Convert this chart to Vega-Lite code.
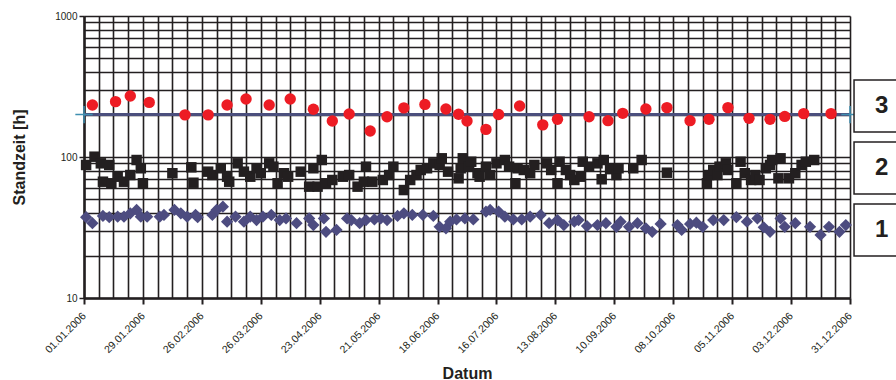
{
  "$schema": "https://vega.github.io/schema/vega-lite/v6.json",
  "width": 766,
  "height": 282,
  "autosize": {"type": "none"},
  "padding": {"left": 84, "top": 16, "right": 46, "bottom": 82},
  "background": "white",
  "config": {"view": {"stroke": null}, "font": "Liberation Sans"},
  "datasets": {
    "s1": [
      {"date": "2006-01-02", "value": 37.4}, {"date": "2006-01-05", "value": 33.9}, {"date": "2006-01-10", "value": 38.2},
      {"date": "2006-01-13", "value": 37.4}, {"date": "2006-01-17", "value": 37.7}, {"date": "2006-01-20", "value": 37.7},
      {"date": "2006-01-23", "value": 39.9}, {"date": "2006-01-26", "value": 42.1}, {"date": "2006-01-28", "value": 37.7},
      {"date": "2006-01-31", "value": 37.7}, {"date": "2006-02-06", "value": 37.7}, {"date": "2006-02-08", "value": 38.8},
      {"date": "2006-02-13", "value": 42.1}, {"date": "2006-02-16", "value": 39.9}, {"date": "2006-02-19", "value": 37.7},
      {"date": "2006-02-23", "value": 38.8}, {"date": "2006-02-24", "value": 37.4}, {"date": "2006-03-03", "value": 38.8},
      {"date": "2006-03-05", "value": 42.1}, {"date": "2006-03-08", "value": 44.4}, {"date": "2006-03-10", "value": 34.8},
      {"date": "2006-03-14", "value": 37.7}, {"date": "2006-03-18", "value": 34.8}, {"date": "2006-03-21", "value": 37.7},
      {"date": "2006-03-24", "value": 35.7}, {"date": "2006-03-27", "value": 37.7}, {"date": "2006-03-31", "value": 38.8},
      {"date": "2006-04-04", "value": 35.7}, {"date": "2006-04-07", "value": 36.7}, {"date": "2006-04-12", "value": 33.9},
      {"date": "2006-04-18", "value": 36.7}, {"date": "2006-04-20", "value": 32.9}, {"date": "2006-04-25", "value": 36.7},
      {"date": "2006-04-26", "value": 29.5}, {"date": "2006-05-01", "value": 30.4}, {"date": "2006-05-06", "value": 36.7},
      {"date": "2006-05-08", "value": 35.7}, {"date": "2006-05-12", "value": 33.9}, {"date": "2006-05-15", "value": 35.7},
      {"date": "2006-05-19", "value": 36.1}, {"date": "2006-05-22", "value": 36.7}, {"date": "2006-05-25", "value": 35.7},
      {"date": "2006-05-30", "value": 38.2}, {"date": "2006-06-02", "value": 39.9}, {"date": "2006-06-06", "value": 38.8},
      {"date": "2006-06-11", "value": 38.8}, {"date": "2006-06-16", "value": 38.2}, {"date": "2006-06-19", "value": 32.0},
      {"date": "2006-06-22", "value": 31.2}, {"date": "2006-06-24", "value": 34.8}, {"date": "2006-06-27", "value": 36.1},
      {"date": "2006-07-01", "value": 36.7}, {"date": "2006-07-05", "value": 36.1}, {"date": "2006-07-11", "value": 41.0},
      {"date": "2006-07-13", "value": 42.1}, {"date": "2006-07-17", "value": 41.0}, {"date": "2006-07-20", "value": 37.7},
      {"date": "2006-07-24", "value": 36.1}, {"date": "2006-07-28", "value": 36.1}, {"date": "2006-08-01", "value": 37.7},
      {"date": "2006-08-06", "value": 38.8}, {"date": "2006-08-10", "value": 33.9}, {"date": "2006-08-14", "value": 35.7},
      {"date": "2006-08-17", "value": 32.9}, {"date": "2006-08-22", "value": 34.8}, {"date": "2006-08-24", "value": 35.7},
      {"date": "2006-08-28", "value": 32.4}, {"date": "2006-09-02", "value": 32.9}, {"date": "2006-09-06", "value": 33.9},
      {"date": "2006-09-11", "value": 32.0}, {"date": "2006-09-13", "value": 34.8}, {"date": "2006-09-17", "value": 32.0},
      {"date": "2006-09-21", "value": 33.9}, {"date": "2006-09-25", "value": 31.2}, {"date": "2006-09-28", "value": 29.5},
      {"date": "2006-10-02", "value": 33.5}, {"date": "2006-10-10", "value": 32.9}, {"date": "2006-10-12", "value": 30.4},
      {"date": "2006-10-16", "value": 33.5}, {"date": "2006-10-19", "value": 34.2}, {"date": "2006-10-22", "value": 32.0},
      {"date": "2006-10-27", "value": 35.7}, {"date": "2006-11-01", "value": 35.7}, {"date": "2006-11-07", "value": 37.4},
      {"date": "2006-11-12", "value": 34.8}, {"date": "2006-11-17", "value": 36.7}, {"date": "2006-11-20", "value": 31.7},
      {"date": "2006-11-23", "value": 29.5}, {"date": "2006-11-28", "value": 36.7}, {"date": "2006-11-30", "value": 32.0},
      {"date": "2006-12-05", "value": 33.9}, {"date": "2006-12-12", "value": 32.0}, {"date": "2006-12-17", "value": 28.0},
      {"date": "2006-12-21", "value": 32.0}, {"date": "2006-12-26", "value": 29.5}, {"date": "2006-12-29", "value": 32.9}
    ],
    "s2": [
      {"date": "2006-01-02", "value": 87.8}, {"date": "2006-01-06", "value": 100.5}, {"date": "2006-01-09", "value": 90.2},
      {"date": "2006-01-10", "value": 66.8}, {"date": "2006-01-13", "value": 87.8}, {"date": "2006-01-14", "value": 65.1},
      {"date": "2006-01-17", "value": 72.5}, {"date": "2006-01-20", "value": 66.8}, {"date": "2006-01-23", "value": 74.5},
      {"date": "2006-01-26", "value": 95.2}, {"date": "2006-01-28", "value": 83.2}, {"date": "2006-01-29", "value": 65.1},
      {"date": "2006-02-12", "value": 76.7}, {"date": "2006-02-21", "value": 84.5}, {"date": "2006-02-22", "value": 65.7},
      {"date": "2006-03-01", "value": 78.7}, {"date": "2006-03-03", "value": 74.5}, {"date": "2006-03-07", "value": 83.2},
      {"date": "2006-03-10", "value": 72.5}, {"date": "2006-03-11", "value": 66.8}, {"date": "2006-03-15", "value": 90.2},
      {"date": "2006-03-18", "value": 78.7}, {"date": "2006-03-21", "value": 72.5}, {"date": "2006-03-24", "value": 83.2},
      {"date": "2006-03-26", "value": 76.7}, {"date": "2006-03-30", "value": 90.2}, {"date": "2006-04-01", "value": 85.4},
      {"date": "2006-04-03", "value": 65.1}, {"date": "2006-04-06", "value": 76.7}, {"date": "2006-04-08", "value": 72.5},
      {"date": "2006-04-14", "value": 78.7}, {"date": "2006-04-18", "value": 61.6}, {"date": "2006-04-20", "value": 83.2},
      {"date": "2006-04-22", "value": 61.6}, {"date": "2006-04-24", "value": 95.2}, {"date": "2006-04-26", "value": 65.1},
      {"date": "2006-04-29", "value": 68.7}, {"date": "2006-05-04", "value": 72.5}, {"date": "2006-05-07", "value": 74.5},
      {"date": "2006-05-11", "value": 61.6}, {"date": "2006-05-14", "value": 66.8}, {"date": "2006-05-15", "value": 85.4},
      {"date": "2006-05-18", "value": 66.8}, {"date": "2006-05-23", "value": 68.7}, {"date": "2006-05-26", "value": 74.5},
      {"date": "2006-05-28", "value": 85.4}, {"date": "2006-06-02", "value": 58.3}, {"date": "2006-06-05", "value": 68.7},
      {"date": "2006-06-08", "value": 74.5}, {"date": "2006-06-10", "value": 80.9}, {"date": "2006-06-13", "value": 83.2},
      {"date": "2006-06-16", "value": 90.2}, {"date": "2006-06-19", "value": 87.8}, {"date": "2006-06-20", "value": 97.9},
      {"date": "2006-06-23", "value": 78.7}, {"date": "2006-06-28", "value": 70.6}, {"date": "2006-06-29", "value": 83.2},
      {"date": "2006-06-30", "value": 97.9}, {"date": "2006-07-03", "value": 85.4}, {"date": "2006-07-04", "value": 92.6},
      {"date": "2006-07-07", "value": 76.7}, {"date": "2006-07-08", "value": 72.5}, {"date": "2006-07-11", "value": 85.4},
      {"date": "2006-07-13", "value": 74.5}, {"date": "2006-07-16", "value": 90.2}, {"date": "2006-07-20", "value": 95.2},
      {"date": "2006-07-22", "value": 85.4}, {"date": "2006-07-25", "value": 65.1}, {"date": "2006-07-26", "value": 83.2},
      {"date": "2006-07-29", "value": 80.9}, {"date": "2006-08-01", "value": 76.7}, {"date": "2006-08-03", "value": 87.8},
      {"date": "2006-08-09", "value": 90.2}, {"date": "2006-08-11", "value": 80.9}, {"date": "2006-08-14", "value": 65.1},
      {"date": "2006-08-15", "value": 92.6}, {"date": "2006-08-18", "value": 80.9}, {"date": "2006-08-20", "value": 74.5},
      {"date": "2006-08-22", "value": 68.7}, {"date": "2006-08-25", "value": 72.5}, {"date": "2006-08-26", "value": 92.6},
      {"date": "2006-08-29", "value": 85.4}, {"date": "2006-09-02", "value": 90.2}, {"date": "2006-09-04", "value": 69.5},
      {"date": "2006-09-05", "value": 95.2}, {"date": "2006-09-08", "value": 82.0}, {"date": "2006-09-11", "value": 74.5},
      {"date": "2006-09-12", "value": 83.2}, {"date": "2006-09-19", "value": 83.2}, {"date": "2006-09-23", "value": 95.2},
      {"date": "2006-10-05", "value": 77.4}, {"date": "2006-10-24", "value": 65.1}, {"date": "2006-10-25", "value": 74.5},
      {"date": "2006-10-27", "value": 80.9}, {"date": "2006-10-29", "value": 74.5}, {"date": "2006-10-30", "value": 85.4},
      {"date": "2006-11-02", "value": 90.2}, {"date": "2006-11-03", "value": 80.9}, {"date": "2006-11-07", "value": 65.1},
      {"date": "2006-11-09", "value": 92.6}, {"date": "2006-11-11", "value": 76.7}, {"date": "2006-11-14", "value": 68.7},
      {"date": "2006-11-16", "value": 74.5}, {"date": "2006-11-18", "value": 68.7}, {"date": "2006-11-21", "value": 83.2},
      {"date": "2006-11-23", "value": 87.8}, {"date": "2006-11-24", "value": 95.2}, {"date": "2006-11-27", "value": 70.6},
      {"date": "2006-11-28", "value": 97.9}, {"date": "2006-12-02", "value": 70.6}, {"date": "2006-12-05", "value": 76.7},
      {"date": "2006-12-08", "value": 87.8}, {"date": "2006-12-10", "value": 92.6}, {"date": "2006-12-14", "value": 95.2}
    ],
    "s3": [
      {"date": "2006-01-05", "value": 234}, {"date": "2006-01-16", "value": 247}, {"date": "2006-01-23", "value": 271},
      {"date": "2006-02-01", "value": 244}, {"date": "2006-02-18", "value": 199}, {"date": "2006-03-01", "value": 199},
      {"date": "2006-03-10", "value": 234}, {"date": "2006-03-19", "value": 258}, {"date": "2006-03-30", "value": 234},
      {"date": "2006-04-09", "value": 258}, {"date": "2006-04-20", "value": 218}, {"date": "2006-04-29", "value": 180},
      {"date": "2006-05-07", "value": 202}, {"date": "2006-05-17", "value": 153}, {"date": "2006-05-25", "value": 193},
      {"date": "2006-06-02", "value": 223}, {"date": "2006-06-12", "value": 236}, {"date": "2006-06-22", "value": 219},
      {"date": "2006-06-28", "value": 201}, {"date": "2006-07-02", "value": 180}, {"date": "2006-07-11", "value": 157},
      {"date": "2006-07-17", "value": 200}, {"date": "2006-07-27", "value": 230}, {"date": "2006-08-07", "value": 169},
      {"date": "2006-08-14", "value": 185}, {"date": "2006-08-29", "value": 193}, {"date": "2006-09-07", "value": 181},
      {"date": "2006-09-14", "value": 204}, {"date": "2006-09-25", "value": 219}, {"date": "2006-10-05", "value": 224},
      {"date": "2006-10-16", "value": 181}, {"date": "2006-10-25", "value": 185}, {"date": "2006-11-03", "value": 224},
      {"date": "2006-11-13", "value": 188}, {"date": "2006-11-23", "value": 185}, {"date": "2006-11-30", "value": 194},
      {"date": "2006-12-09", "value": 203}, {"date": "2006-12-22", "value": 203}
    ],
    "target": [
      {"date": "2006-01-01", "value": 200},
      {"date": "2006-12-31", "value": 200}
    ],
    "boxes": [
      {"label": "3"}, {"label": "2"}, {"label": "1"}
    ]
  },
  "layer": [
    {
      "layer": [
        {
          "data": {"name": "target"},
          "mark": {"type": "line", "color": "#4b4f7d", "strokeWidth": 3},
          "encoding": {
            "x": {
              "field": "date", "type": "temporal",
              "scale": {"type": "utc", "domain": [{"year": 2006, "month": 1, "date": 1, "utc": true}, {"year": 2006, "month": 12, "date": 31, "utc": true}], "nice": false},
              "axis": {
                "title": "Datum",
                "titleFontSize": 16, "titleFontWeight": "bold", "titleColor": "#231f20",
                "titleX": 383, "titleY": 75, "titleBaseline": "middle", "titleAlign": "center",
                "tickCount": {"interval": "week", "step": 1},
                "grid": true, "gridColor": "#231f20", "gridWidth": 1.6, "gridOpacity": 1,
                "domainColor": "#231f20", "domainWidth": 2.5,
                "tickColor": "#231f20", "tickWidth": 2,
                "tickSize": {"condition": {"test": "round((datum.value - utc(2006,0,1)) / 604800000) % 4 == 0", "value": 6}, "value": 0},
                "labelExpr": "round((datum.value - utc(2006,0,1)) / 604800000) % 4 == 0 ? utcFormat(datum.value, '%d.%m.%Y') : ''",
                "labelAngle": -45, "labelAlign": "right", "labelBaseline": "middle",
                "labelFontSize": 10.5, "labelColor": "#231f20", "labelPadding": 10,
                "labelOverlap": false, "labelFlush": false, "labelBound": false
              }
            },
            "y": {
              "field": "value", "type": "quantitative",
              "scale": {"type": "log", "domain": [10, 1000], "nice": false},
              "axis": {
                "title": "Standzeit [h]",
                "titleFontSize": 16, "titleFontWeight": "bold", "titleColor": "#231f20",
                "titleX": -65, "titleY": 141, "titleAngle": -90, "titleAlign": "center", "titleBaseline": "middle",
                "values": [10, 20, 30, 40, 50, 60, 70, 80, 90, 100, 200, 300, 400, 500, 600, 700, 800, 900, 1000],
                "grid": true, "gridColor": "#231f20", "gridWidth": 1.6, "gridOpacity": 1,
                "domainColor": "#231f20", "domainWidth": 2.5,
                "tickColor": "#231f20", "tickWidth": 1.5,
                "tickSize": {"condition": {"test": "datum.value == 10 || datum.value == 100 || datum.value == 1000", "value": 5}, "value": 0},
                "labelExpr": "(datum.value == 10 || datum.value == 100 || datum.value == 1000) ? format(datum.value, 'd') : ''",
                "labelFontSize": 10, "labelColor": "#231f20", "labelPadding": 2,
                "labelOverlap": false, "labelFlush": false, "labelBound": false
              }
            }
          }
        },
        {
          "mark": {"type": "rule", "color": "#e3262b", "strokeWidth": 2},
          "encoding": {"y": {"datum": 78, "type": "quantitative"}}
        },
        {
          "data": {"name": "target"},
          "mark": {"type": "point", "shape": "M-1,0H1M0,-1V1", "filled": false, "stroke": "#3f8fb0", "strokeWidth": 1.5, "size": 300, "opacity": 1},
          "encoding": {"x": {"field": "date", "type": "temporal"}, "y": {"field": "value", "type": "quantitative"}}
        },
        {
          "data": {"name": "s1"},
          "mark": {"type": "point", "shape": "diamond", "filled": true, "size": 150, "color": "#4d4c80", "opacity": 1},
          "encoding": {"x": {"field": "date", "type": "temporal"}, "y": {"field": "value", "type": "quantitative"}}
        },
        {
          "data": {"name": "s2"},
          "mark": {"type": "square", "size": 110, "color": "#231f20", "opacity": 1},
          "encoding": {"x": {"field": "date", "type": "temporal"}, "y": {"field": "value", "type": "quantitative"}}
        },
        {
          "data": {"name": "s3"},
          "mark": {"type": "circle", "size": 130, "color": "#ed1c24", "opacity": 1},
          "encoding": {"x": {"field": "date", "type": "temporal"}, "y": {"field": "value", "type": "quantitative"}}
        }
      ]
    },
    {
      "data": {"name": "boxes"},
      "layer": [
        {
          "mark": {"type": "rect", "fill": "white", "stroke": "#231f20", "strokeWidth": 1.5},
          "encoding": {
            "x": {"datum": {"year": 2007, "month": 1, "date": 1, "hours": 22, "utc": true}, "type": "temporal"},
            "x2": {"datum": {"year": 2007, "month": 2, "date": 15, "utc": true}},
            "y": {"field": "label", "type": "nominal", "scale": {"type": "band", "domain": ["3", "2", "1"], "paddingInner": 0.161, "paddingOuter": 0.855, "align": 0.604}, "axis": null}
          }
        },
        {
          "mark": {"type": "text", "fontSize": 24, "fontWeight": "bold", "color": "#231f20", "baseline": "middle", "align": "center"},
          "encoding": {
            "x": {"datum": {"year": 2007, "month": 1, "date": 15, "utc": true}, "type": "temporal"},
            "y": {"field": "label", "type": "nominal", "axis": null},
            "text": {"field": "label"}
          }
        }
      ]
    }
  ],
  "resolve": {"scale": {"y": "independent"}}
}
